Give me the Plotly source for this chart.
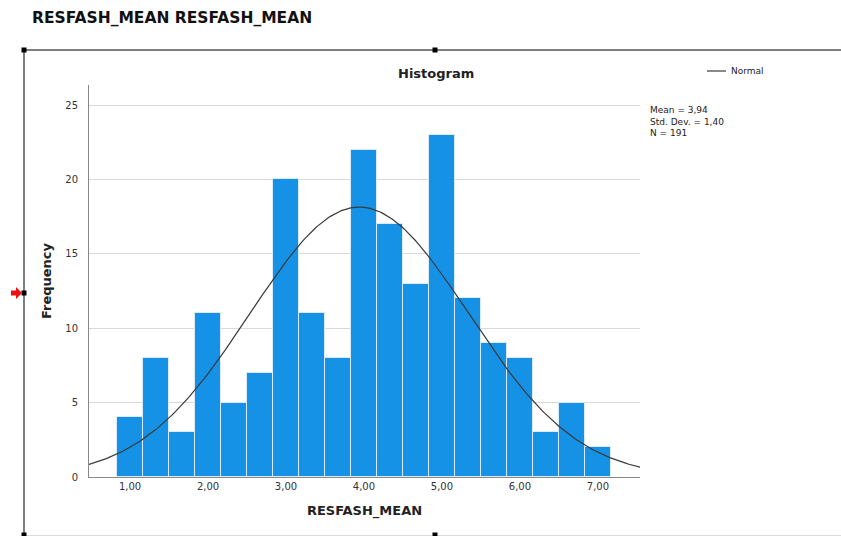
import numpy as np
import plotly.graph_objects as go

# Histogram of RESFASH_MEAN: bin centres (width 1/3) and frequencies
bin_centers = [1.0, 1.3333, 1.6667, 2.0, 2.3333, 2.6667, 3.0, 3.3333, 3.6667, 4.0,
               4.3333, 4.6667, 5.0, 5.3333, 5.6667, 6.0, 6.3333, 6.6667, 7.0]
frequencies = [4, 8, 3, 11, 5, 7, 20, 11, 8, 22, 17, 13, 23, 12, 9, 8, 3, 5, 2]
bin_width = 1 / 3

# Summary statistics shown beside the plot
mean_val = 3.94
std_val = 1.40
n_obs = 191

x_ticks = [1, 2, 3, 4, 5, 6, 7]
x_tick_labels = ["1,00", "2,00", "3,00", "4,00", "5,00", "6,00", "7,00"]
y_ticks = [0, 5, 10, 15, 20, 25]

W, H = 841, 536
L, R, T, B = 89, 201, 85, 59
pw, ph = W - L - R, H - T - B
x_range = [0.474, 7.54]
y_range = [0, 26.35]


def px(x):
    return (x - L) / pw


def py(y):
    return (H - B - y) / ph


def comma(v):
    return f"{v:.2f}".replace(".", ",")


FONT = "DejaVu Sans"

fig = go.Figure()

fig.add_trace(go.Bar(
    x=bin_centers, y=frequencies, width=bin_width,
    marker=dict(color="#1591E6", line=dict(color="#DCEBFA", width=1)),
    showlegend=False, hoverinfo="x+y",
))

# Fitted normal curve scaled to counts per bin
xs = np.linspace(x_range[0], x_range[1], 300)
ys = n_obs * bin_width / (std_val * np.sqrt(2 * np.pi)) * np.exp(-0.5 * ((xs - mean_val) / std_val) ** 2)
fig.add_trace(go.Scatter(x=xs, y=ys, mode="lines", line=dict(color="#3a3a3a", width=1.2),
                         showlegend=False, hoverinfo="skip"))

shapes = []
# Output frame around the chart
frame_col = "#555555"
shapes.append(dict(type="line", xref="paper", yref="paper", x0=px(24), x1=px(841), y0=py(50), y1=py(50),
                   line=dict(color=frame_col, width=1.5)))
shapes.append(dict(type="line", xref="paper", yref="paper", x0=px(24), x1=px(24), y0=py(50), y1=py(536),
                   line=dict(color=frame_col, width=1.5)))
shapes.append(dict(type="line", xref="paper", yref="paper", x0=px(24), x1=px(841), y0=py(535.5), y1=py(535.5),
                   line=dict(color="#dddddd", width=1)))
# Handles on the frame
for hx, hy in [(24, 50), (435, 50), (24, 293), (24, 535), (435, 535)]:
    shapes.append(dict(type="rect", xref="paper", yref="paper", x0=px(hx - 2.5), x1=px(hx + 2.5),
                       y0=py(hy + 2.5), y1=py(hy - 2.5), fillcolor="black", line=dict(width=0)))
# Red arrow marker
shapes.append(dict(type="path", xref="paper", yref="paper",
                   path=f"M {px(11)} {py(290.5)} L {px(16)} {py(290.5)} L {px(16)} {py(287)} L {px(22)} {py(293)} "
                        f"L {px(16)} {py(299)} L {px(16)} {py(295.5)} L {px(11)} {py(295.5)} Z",
                   fillcolor="#ee1111", line=dict(width=0)))
# Legend line sample
shapes.append(dict(type="line", xref="paper", yref="paper", x0=px(707), x1=px(726), y0=py(71), y1=py(71),
                   line=dict(color="#3a3a3a", width=1.2)))

annotations = [
    dict(text="<b>RESFASH_MEAN RESFASH_MEAN</b>", xref="paper", yref="paper", x=px(30), y=py(18),
         xanchor="left", yanchor="middle", showarrow=False, font=dict(family=FONT, size=15.5, color="#111111")),
    dict(text="<b>Histogram</b>", xref="paper", yref="paper", x=px(436), y=py(73),
         xanchor="center", yanchor="middle", showarrow=False, font=dict(family=FONT, size=13, color="#222222")),
    dict(text="Normal", xref="paper", yref="paper", x=px(729), y=py(71),
         xanchor="left", yanchor="middle", showarrow=False, font=dict(family=FONT, size=9, color="#222222")),
    dict(text=f"Mean = {comma(mean_val)}<br>Std. Dev. = {comma(std_val)}<br>N = {n_obs}",
         xref="paper", yref="paper", x=px(648), y=py(103), xanchor="left", yanchor="top", align="left",
         showarrow=False, font=dict(family=FONT, size=9, color="#222222")),
]

fig.update_layout(
    width=W, height=H,
    margin=dict(l=L, r=R, t=T, b=B, pad=0),
    paper_bgcolor="white", plot_bgcolor="white",
    bargap=0,
    shapes=shapes,
    annotations=annotations,
    font=dict(family=FONT, color="#333333"),
    xaxis=dict(range=x_range, tickvals=x_ticks, ticktext=x_tick_labels, showgrid=False, zeroline=False,
               showline=True, linecolor="#888888", linewidth=1, ticks="", tickfont=dict(size=10, color="#333333"),
               title=dict(text="<b>RESFASH_MEAN</b>", font=dict(family=FONT, size=13, color="#222222"), standoff=14)),
    yaxis=dict(range=y_range, tickvals=y_ticks, showgrid=True, gridcolor="#d9d9d9", gridwidth=1.2,
               zeroline=False, showline=True, linecolor="#888888", linewidth=1, ticks="",
               tickfont=dict(size=10, color="#333333"), ticklabelstandoff=8,
               title=dict(text="<b>Frequency</b>", font=dict(family=FONT, size=13, color="#222222"), standoff=10)),
)

fig.write_html("out.html")
